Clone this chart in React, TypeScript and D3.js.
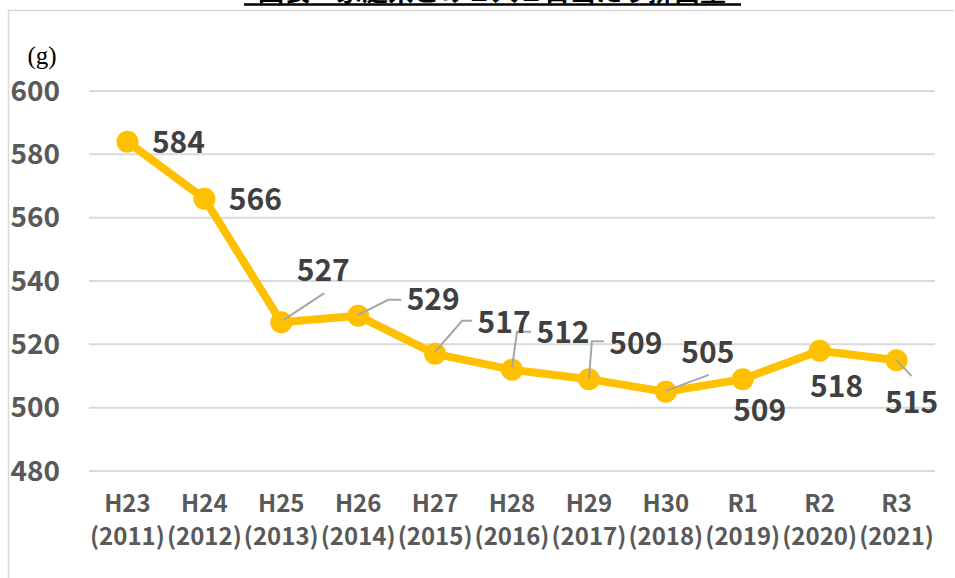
import React, { useEffect, useRef } from 'react';
import * as d3 from 'd3';

// 家庭系ごみ 1人1日当たり排出量 (g)
const eraLabels = ['H23', 'H24', 'H25', 'H26', 'H27', 'H28', 'H29', 'H30', 'R1', 'R2', 'R3'];
const yearLabels = ['(2011)', '(2012)', '(2013)', '(2014)', '(2015)', '(2016)', '(2017)', '(2018)', '(2019)', '(2020)', '(2021)'];
const values = [584, 566, 527, 529, 517, 512, 509, 505, 509, 518, 515];
const yTicks = [480, 500, 520, 540, 560, 580, 600];

// label placement relative to each point: text centre offset and leader path
const labelLayout: { dx: number; dy: number; leader?: [number, number][] }[] = [
  { dx: 51, dy: 1 },
  { dx: 51, dy: 1 },
  { dx: 42, dy: -52, leader: [[2, -2], [43, -29]] },
  { dx: 75, dy: -16, leader: [[0, -1], [30, -16], [43, -16]] },
  { dx: 69, dy: -31, leader: [[0, -2], [27, -33], [37, -33]] },
  { dx: 51, dy: -37, leader: [[0, -2], [5, -38], [19, -38]] },
  { dx: 47, dy: -36, leader: [[0, -1], [3, -38], [15, -38]] },
  { dx: 42, dy: -39, leader: [[0, -1], [43, -17]] },
  { dx: 17, dy: 31 },
  { dx: 17, dy: 36 },
  { dx: 15, dy: 42, leader: [[0, 0], [15, 16]] },
];

const App = () => {
  const ref = useRef<SVGSVGElement>(null);

  useEffect(() => {
    const width = 955;
    const height = 578;
    const plot = { left: 89, right: 935, top: 91, bottom: 471 };
    const svg = d3.select(ref.current);
    svg.selectAll('*').remove();
    svg.attr('width', width).attr('height', height);

    const x = d3.scaleBand().domain(eraLabels).range([plot.left, plot.right]);
    const y = d3.scaleLinear().domain([480, 600]).range([plot.bottom, plot.top]);
    const cx = (i: number) => (x(eraLabels[i]) as number) + x.bandwidth() / 2;

    // chart frame
    svg.append('path')
      .attr('d', `M8.5,${height} V10.5 H954`)
      .attr('fill', 'none')
      .attr('stroke', '#d9d9d9')
      .attr('stroke-width', 1.5);

    // clipped title
    svg.append('text')
      .attr('x', 492)
      .attr('y', 1)
      .attr('text-anchor', 'middle')
      .attr('font-family', '"Noto Sans CJK JP"')
      .attr('font-weight', 700)
      .attr('font-size', 26)
      .attr('fill', '#000')
      .text('図表　家庭系ごみ１人１日当たり排出量');
    svg.append('line')
      .attr('x1', 244).attr('x2', 741)
      .attr('y1', 4.5).attr('y2', 4.5)
      .attr('stroke', '#000').attr('stroke-width', 2.5);

    // gridlines
    svg.append('g')
      .selectAll('line')
      .data(yTicks)
      .join('line')
      .attr('x1', plot.left).attr('x2', plot.right)
      .attr('y1', d => y(d)).attr('y2', d => y(d))
      .attr('stroke', '#d9d9d9').attr('stroke-width', 2);

    // y tick labels
    svg.append('g')
      .selectAll('text')
      .data(yTicks)
      .join('text')
      .attr('x', 60)
      .attr('y', d => y(d))
      .attr('dy', '0.35em')
      .attr('text-anchor', 'end')
      .attr('font-family', '"Noto Sans CJK JP"')
      .attr('font-weight', 700)
      .attr('font-size', 28)
      .attr('fill', '#595959')
      .text(d => d);

    svg.append('text')
      .attr('x', 42).attr('y', 64)
      .attr('text-anchor', 'middle')
      .attr('font-family', '"Liberation Serif"')
      .attr('font-size', 25)
      .attr('fill', '#000')
      .text('(g)');

    // x labels
    const xl = svg.append('g')
      .selectAll('text')
      .data(eraLabels)
      .join('text')
      .attr('text-anchor', 'middle')
      .attr('font-family', '"Noto Sans CJK JP"')
      .attr('font-weight', 700)
      .attr('font-size', 24)
      .attr('fill', '#595959');
    xl.append('tspan').attr('x', (_, i) => cx(i)).attr('y', 512).text(d => d);
    xl.append('tspan').attr('x', (_, i) => cx(i)).attr('y', 545).text((_, i) => yearLabels[i]);

    // line + markers
    const line = d3.line<number>().x((_, i) => cx(i)).y(d => y(d));
    svg.append('path')
      .datum(values)
      .attr('d', line)
      .attr('fill', 'none')
      .attr('stroke', '#ffc000')
      .attr('stroke-width', 8)
      .attr('stroke-linejoin', 'round');
    svg.append('g')
      .selectAll('circle')
      .data(values)
      .join('circle')
      .attr('cx', (_, i) => cx(i))
      .attr('cy', d => y(d))
      .attr('r', 11)
      .attr('fill', '#ffc000');

    // leader lines
    svg.append('g')
      .selectAll('path')
      .data(values.map((v, i) => ({ v, i, l: labelLayout[i] })).filter(d => d.l.leader))
      .join('path')
      .attr('d', d => d3.line()(d.l.leader!.map(([a, b]) => [cx(d.i) + a, y(d.v) + b])))
      .attr('fill', 'none')
      .attr('stroke', '#a6a6a6')
      .attr('stroke-width', 2);

    // data labels
    svg.append('g')
      .selectAll('text')
      .data(values)
      .join('text')
      .attr('x', (_, i) => cx(i) + labelLayout[i].dx)
      .attr('y', (d, i) => y(d) + labelLayout[i].dy)
      .attr('dy', '0.35em')
      .attr('text-anchor', 'middle')
      .attr('font-family', '"Noto Sans CJK JP"')
      .attr('font-weight', 700)
      .attr('font-size', 30)
      .attr('fill', '#404040')
      .text(d => d);
  }, []);

  return (
    <svg ref={ref} style={{ position: 'absolute', left: 0, top: 0, background: '#fff' }}></svg>
  );
};

export default App;
